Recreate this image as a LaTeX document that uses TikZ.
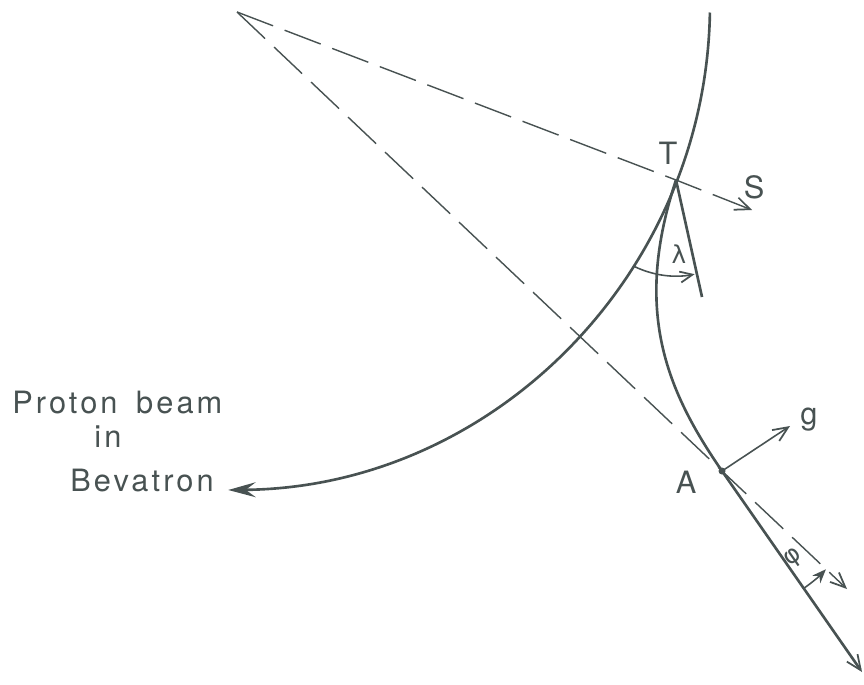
\documentclass[tikz,border=0pt]{standalone}
\usepackage{fontspec}
\setmainfont{TeX Gyre Heros}
\newfontfamily\greekfont{DejaVu Sans}
\usetikzlibrary{arrows.meta,calc}
\definecolor{ink}{RGB}{72,82,82}
\tikzset{
  ring/.style={draw=ink,line width=1.5pt},
  track/.style={draw=ink,line width=1.5pt},
  guide/.style={draw=ink,line width=.8pt,dash pattern=on 22pt off 7pt},
  barb/.style={-{Straight Barb[length=3mm,width=2.6mm,line width=1pt]}},
  vec/.style={barb,draw=ink,line width=.9pt},
  angarc/.style={draw=ink,line width=.9pt},
  caption/.style={text=ink,inner sep=0pt,
    font=\fontsize{17.5}{20}\selectfont\addfontfeature{LetterSpace=10}},
  ptlbl/.style={text=ink,inner sep=0pt,font=\fontsize{17.5}{20}\selectfont},
  angle/.style={text=ink,inner sep=0pt,font=\fontsize{14}{16}\selectfont\greekfont},
}
\begin{document}
\begin{tikzpicture}[x=0.02cm,y=-0.02cm]
  \useasboundingbox (0,0) rectangle (864,684);
  \coordinate (O)    at (237,12);
  \coordinate (Rtop) at (709.9,12.5);
  \coordinate (T)    at (676,180);
  \coordinate (A)    at (722,471);
  \coordinate (Send) at (752,210);
  \coordinate (Aend) at (847,589);
  \coordinate (Pend) at (862,672);
  \coordinate (gend) at (790,426);
  \coordinate (Ttan) at (702,297);
  \draw[ring,-{Stealth[length=5.5mm,width=3mm,inset=2mm]}]
    (Rtop) arc[start angle=1,end angle=89.5,radius=486];
  \draw[guide,barb] (O) -- (T) -- (Send);
  \draw[guide,barb] (O) -- (A) -- (Aend);
  \draw[track] (T) -- (Ttan);
  \draw[track,barb] (T) .. controls (633,310) and (666,390) .. (A) -- (Pend);
  \draw[vec] (A) -- (gend);
  \fill[ink] (A) circle (3.5);
  \draw[angarc,-{Straight Barb[length=2.5mm,width=2.2mm,line width=1pt]}]
    ($(T)+(115.75:96)$) arc[start angle=115.75,end angle=78.8,radius=96];
  \draw[angarc,-{Stealth[length=2.8mm,width=2.2mm]}]
    ($(A)+(55.1:143)$) arc[start angle=55.1,end angle=43.4,radius=143];
  \node[caption,anchor=base west] (beam1) at (12,413) {Proton\hspace{4pt} beam};
  \node[caption,anchor=base west] (beam2) at (94,447) {in};
  \node[caption,anchor=base west] (beam3) at (70,491) {Bevatron};
  \node[ptlbl] (Tlbl) at (668,153) {T};
  \node[ptlbl] (Slbl) at (754,187) {S};
  \node[ptlbl] (Albl) at (686,482) {A};
  \node[ptlbl] (glbl) at (809,420) {g};
  \node[angle] (lam) at (679,254) {λ};
  \node[angle,rotate=35] (phi) at (794,558) {φ};
\end{tikzpicture}
\end{document}
